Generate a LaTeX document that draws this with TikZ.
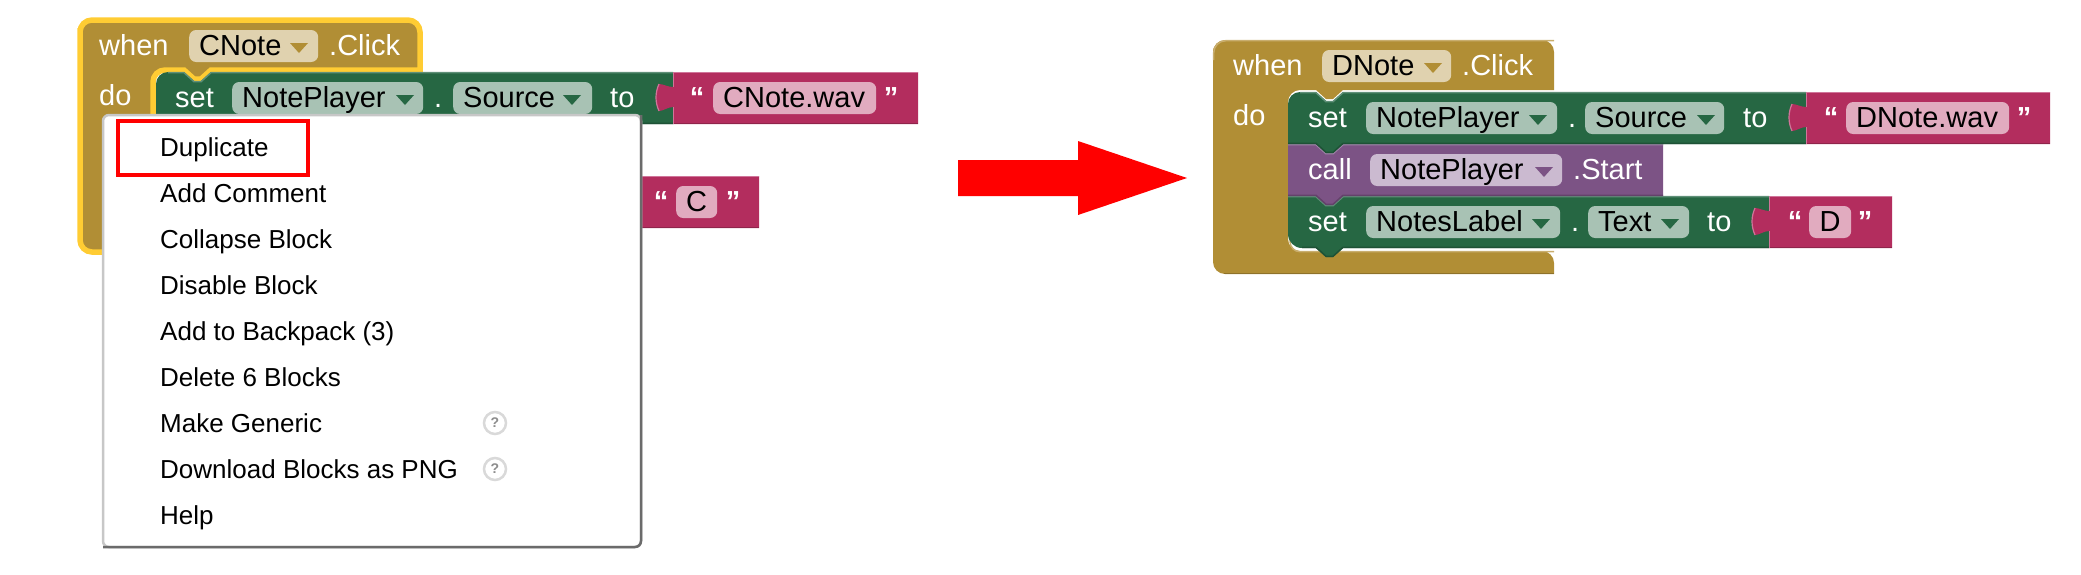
\documentclass[tikz,border=0pt]{standalone}
\usepackage{fontspec}
\setmainfont{Liberation Sans}
\usepackage{tikz}

\definecolor{goldb}{HTML}{B18E35}
\definecolor{goldl}{HTML}{C9AE6E}
\definecolor{goldd}{HTML}{8E722A}
\definecolor{goldf}{HTML}{E0D2AF}
\definecolor{greenb}{HTML}{266743}
\definecolor{greenl}{HTML}{5F9078}
\definecolor{greend}{HTML}{1E5236}
\definecolor{greenf}{HTML}{A8C2B4}
\definecolor{purpb}{HTML}{7C5385}
\definecolor{purpl}{HTML}{A084A8}
\definecolor{purpd}{HTML}{63426A}
\definecolor{purpf}{HTML}{CBBAD0}
\definecolor{pinkb}{HTML}{B32D5E}
\definecolor{pinkl}{HTML}{D0759A}
\definecolor{pinkd}{HTML}{8F244B}
\definecolor{pinkf}{HTML}{E1ABBF}
\definecolor{yellowh}{HTML}{FFCC33}

\newcommand{\blockfont}{\fontsize{29}{32}\selectfont}
\newcommand{\menufont}{\fontsize{26}{30}\selectfont}

% statement block: main,light,dark,x1,x2,y1,y2,top radius,bottom radius
\newcommand{\stmtblock}[9]{
\fill[#1] (#4,#6+20) [rounded corners=#8] -- (#4,#6) [sharp corners] -- (#4+28,#6) -- (#4+38,#6+9) -- (#4+45,#6+9) -- (#4+55,#6) -- (#5,#6) -- (#5,#7) -- (#4+55,#7) -- (#4+45,#7+9) -- (#4+38,#7+9) -- (#4+28,#7) [rounded corners=#9] -- (#4,#7) [sharp corners] -- (#4,#7-20) -- cycle;
\draw[#2,line width=1.5pt] (#4+#8,#6+.7) -- (#4+28,#6+.7) -- (#4+38,#6+9.7) -- (#4+45,#6+9.7) -- (#4+55,#6+.7) -- (#5,#6+.7);
\draw[#3,line width=1.5pt] (#5,#7-.7) -- (#4+55,#7-.7) -- (#4+45,#7+8.3) -- (#4+38,#7+8.3) -- (#4+28,#7-.7) -- (#4+#9,#7-.7);
}
% text block with its tab: x1,x2,y1
\newcommand{\textblock}[3]{
\fill[pinkb] (#1,#3) -- (#2,#3) -- (#2,#3+52) -- (#1,#3+52) -- (#1,#3+35) .. controls (#1-5,#3+35) and (#1-10,#3+39) .. (#1-14,#3+39) .. controls (#1-18,#3+30) and (#1-18,#3+21) .. (#1-14,#3+12) .. controls (#1-10,#3+12) and (#1-5,#3+15) .. (#1,#3+15) -- cycle;
\draw[pinkl,line width=1.5pt] (#1,#3+.7) -- (#2,#3+.7);
\draw[pinkd,line width=1.5pt] (#1,#3+51.3) -- (#2,#3+51.3);
\draw[pinkl,line width=1pt] (#1,#3+35) -- (#1,#3+52);
\draw[pinkl,line width=1pt] (#1,#3) -- (#1,#3+15);
\draw[pinkl,line width=1.2pt] (#1-14,#3+39) .. controls (#1-18,#3+30) and (#1-18,#3+21) .. (#1-14,#3+12);
}
% dropdown triangle: x,row,colour
\newcommand{\dropmark}[3]{
\fill[#3] (#1,#2-3) -- (#1+18,#2-3) -- (#1+9,#2+7) -- cycle;
}

\begin{document}
\begin{tikzpicture}[x=1pt,y=-1pt]
\tikzstyle{lbl}=[anchor=west, inner sep=0pt, text=white, font=\blockfont, text height=22pt, text depth=4pt]
\tikzstyle{field}=[anchor=west, inner xsep=10pt, inner ysep=0pt, minimum height=32pt, rounded corners=7pt, text=black, font=\blockfont, text height=22pt, text depth=4pt, align=left]
\tikzstyle{quot}=[inner sep=0pt, text=white, font=\blockfont\bfseries, text height=22pt, text depth=4pt]
\tikzstyle{item}=[anchor=west, inner sep=0pt, text=black, font=\menufont, text height=22pt, text depth=3pt]
\tikzstyle{hlp}=[circle, minimum size=22pt, inner sep=0pt, draw=black!15, line width=2.5pt, fill=white, text=black!45, font=\fontsize{14}{16}\selectfont\bfseries]
\useasboundingbox (0,0) rectangle (2081,574);

% left event block
\draw[yellowh,fill=goldb,line width=5.5pt,rounded corners=12pt] (80,40) -- (80,20) -- (420,20) [sharp corners] -- (420,70) -- (211,70) -- (201,79) -- (194,79) -- (184,70) [rounded corners=12pt] -- (153,70) -- (153,231) -- (420,231) [sharp corners] -- (420,252) [rounded corners=12pt] -- (80,252) -- cycle;
\node (w1) at (99,46) [lbl] {when};
\node (f1) at (189,46) [field,fill=goldf,text width=109pt] {CNote};
\dropmark{290}{46}{goldb}
\node (c1) at (329,46) [lbl] {.Click};
\node (d1) at (99,96) [lbl] {do};

\stmtblock{greenb}{greenl}{greend}{156}{673}{72}{124}{12pt}{0pt}
\node (s1) at (175,98) [lbl] {set};
\node (f2) at (232,98) [field,fill=greenf,text width=171pt] {NotePlayer};
\dropmark{396}{98}{greenb}
\node (p1) at (434,98) [lbl] {.};
\node (f3) at (453,98) [field,fill=greenf,text width=119pt] {Source};
\dropmark{563}{98}{greenb}
\node (t1) at (610,98) [lbl] {to};
\textblock{673}{918}{72}
\node (q1) at (697,98) [quot] {“};
\node (f4) at (713,98) [field,fill=pinkf,text width=143pt] {CNote.wav};
\node (q2) at (891,98) [quot] {”};
\textblock{637}{759}{176}
\node (q3) at (661,202) [quot] {“};
\node (f5) at (676,202) [field,fill=pinkf,inner xsep=0pt,minimum width=41pt,align=center] {C};
\node (q4) at (733,202) [quot] {”};

% context menu
\node (menu) at (103,115) [anchor=north west, minimum width=538pt, minimum height=432pt, outer sep=0pt, rounded corners=6pt, fill=white, draw=black!22, line width=2.5pt] {};
\draw[black!58,line width=2.5pt,rounded corners=6pt] (menu.north east) -- (menu.south east) -- (menu.south west);
\node (hl) at (118,121) [anchor=north west, minimum width=190pt, minimum height=54pt, outer sep=0pt, draw=red, line width=4pt] {};
\node (m1) at (160,147) [item] {Duplicate};
\node (m2) at (160,193) [item] {Add Comment};
\node (m3) at (160,239) [item] {Collapse Block};
\node (m4) at (160,285) [item] {Disable Block};
\node (m5) at (160,331) [item] {Add to Backpack (3)};
\node (m6) at (160,377) [item] {Delete 6 Blocks};
\node (m7) at (160,423) [item] {Make Generic};
\node (m8) at (160,469) [item] {Download Blocks as PNG};
\node (m9) at (160,515) [item] {Help};
\node (h1) at (495,423) [hlp] {?};
\node (h2) at (495,469) [hlp] {?};

% red arrow
\fill[red] (958,160) -- (1078,160) -- (1078,141) -- (1187,178) -- (1078,215) -- (1078,196) -- (958,196) -- cycle;

% right event block
\fill[goldb,rounded corners=12pt] (1213,60) -- (1213,40) -- (1554,40) [sharp corners] -- (1554,90) -- (1343,90) -- (1333,99) -- (1326,99) -- (1316,90) [rounded corners=12pt] -- (1288,90) -- (1288,251) -- (1554,251) [sharp corners] -- (1554,274) [rounded corners=12pt] -- (1213,274) -- cycle;
\draw[goldl,line width=1.5pt,rounded corners=12pt] (1213.7,60) -- (1213.7,40.7) -- (1554,40.7);
\draw[goldl,line width=1.5pt,rounded corners=10pt] (1290,235) -- (1290,251.7) -- (1554,251.7);
\draw[goldd,line width=1.5pt] (1224,273.3) -- (1554,273.3);
\node (w2) at (1233,66) [lbl] {when};
\node (f6) at (1322,66) [field,fill=goldf,text width=109pt] {DNote};
\dropmark{1424}{66}{goldb}
\node (c2) at (1462,66) [lbl] {.Click};
\node (d2) at (1233,116) [lbl] {do};

% stack, lowest first so each tab lies on the next block
\stmtblock{greenb}{greenl}{greend}{1288}{1769}{196}{248}{0pt}{14pt}
\stmtblock{purpb}{purpl}{purpd}{1288}{1663}{144}{196}{0pt}{0pt}
\stmtblock{greenb}{greenl}{greend}{1288}{1806}{92}{144}{12pt}{0pt}

\node (s2) at (1308,118) [lbl] {set};
\node (f7) at (1366,118) [field,fill=greenf,text width=171pt] {NotePlayer};
\dropmark{1529}{118}{greenb}
\node (p2) at (1568,118) [lbl] {.};
\node (f8) at (1585,118) [field,fill=greenf,text width=119pt] {Source};
\dropmark{1697}{118}{greenb}
\node (t2) at (1743,118) [lbl] {to};
\textblock{1806}{2050}{92}
\node (q5) at (1831,118) [quot] {“};
\node (f9) at (1846,118) [field,fill=pinkf,text width=143pt] {DNote.wav};
\node (q6) at (2024,118) [quot] {”};

\node (s3) at (1308,170) [lbl] {call};
\node (f10) at (1370,170) [field,fill=purpf,text width=172pt] {NotePlayer};
\dropmark{1535}{170}{purpb}
\node (c3) at (1573,170) [lbl] {.Start};

\node (s4) at (1308,222) [lbl] {set};
\node (f11) at (1366,222) [field,fill=greenf,text width=174pt] {NotesLabel};
\dropmark{1532}{222}{greenb}
\node (p3) at (1571,222) [lbl] {.};
\node (f12) at (1588,222) [field,fill=greenf,text width=81pt] {Text};
\dropmark{1661}{222}{greenb}
\node (t3) at (1707,222) [lbl] {to};
\textblock{1769}{1892}{196}
\node (q7) at (1795,222) [quot] {“};
\node (f13) at (1809,222) [field,fill=pinkf,inner xsep=0pt,minimum width=42pt,align=center] {D};
\node (q8) at (1865,222) [quot] {”};
\end{tikzpicture}
\end{document}
